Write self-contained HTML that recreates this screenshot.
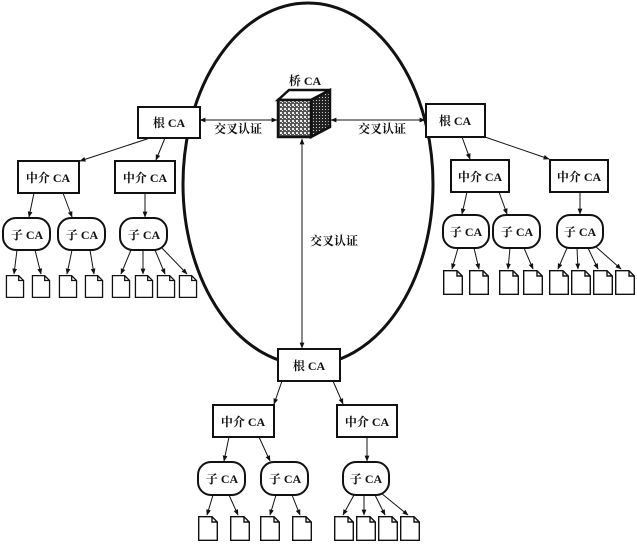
<!DOCTYPE html>
<html><head><meta charset="utf-8"><style>
html,body{margin:0;padding:0;background:#fff}
svg{display:block}
text{font-family:"Liberation Serif","Noto Serif CJK SC",serif;font-size:12px;fill:#111;font-weight:bold}
</style></head><body>
<svg width="637" height="544" viewBox="0 0 637 544" xmlns="http://www.w3.org/2000/svg">
<defs>
<marker id="a" viewBox="0 0 10 10" refX="9" refY="5" markerWidth="6" markerHeight="6" orient="auto-start-reverse"><path d="M0,1 L10,5 L0,9 z" fill="#111"/></marker>
<pattern id="p" width="4" height="4" patternUnits="userSpaceOnUse"><rect width="4" height="4" fill="#555"/><rect x="0" y="0" width="2" height="2" fill="#eee"/><rect x="2" y="2" width="1" height="1" fill="#eee"/></pattern>
<pattern id="q" width="3" height="3" patternUnits="userSpaceOnUse"><rect width="3" height="3" fill="#222"/><rect x="1" y="1" width="1" height="1" fill="#ccc"/></pattern>
<symbol id="d" viewBox="0 0 20 25" overflow="visible"><path d="M0.7,0.7 H14 L19.3,6 V24.3 H0.7 Z M14,0.7 V6 H19.3" fill="#fff" stroke="#111" stroke-width="1.4"/></symbol>
</defs>
<ellipse cx="308" cy="184" rx="125" ry="181" fill="none" stroke="#111" stroke-width="3"/>
<g stroke="#111" stroke-width="1" fill="none" marker-end="url(#a)">
<line x1="200" y1="120" x2="277" y2="120" marker-start="url(#a)"/>
<line x1="331" y1="120" x2="425" y2="120" marker-start="url(#a)"/>
<line x1="302" y1="139" x2="302" y2="348" marker-start="url(#a)"/>
<line x1="150" y1="138" x2="80" y2="161"/><line x1="165" y1="138" x2="156" y2="160"/>
<line x1="34" y1="193" x2="29" y2="217"/><line x1="63" y1="193" x2="72" y2="217"/><line x1="145" y1="193" x2="145" y2="217"/>
<line x1="17" y1="250" x2="14" y2="274"/><line x1="35" y1="250" x2="41" y2="274"/><line x1="72" y1="250" x2="67" y2="274"/><line x1="90" y1="250" x2="94" y2="274"/>
<line x1="131" y1="250" x2="121" y2="274"/><line x1="143" y1="250" x2="143" y2="274"/><line x1="155" y1="250" x2="165" y2="274"/><line x1="161" y1="247" x2="187" y2="274"/>
<line x1="462" y1="137" x2="470" y2="159"/><line x1="485" y1="137" x2="549" y2="159"/>
<line x1="467" y1="192" x2="462" y2="214"/><line x1="499" y1="192" x2="507" y2="214"/><line x1="580" y1="192" x2="580" y2="214"/>
<line x1="458" y1="248" x2="452" y2="269"/><line x1="474" y1="248" x2="479" y2="269"/><line x1="510" y1="248" x2="508" y2="269"/><line x1="524" y1="248" x2="533" y2="269"/>
<line x1="567" y1="248" x2="558" y2="269"/><line x1="577" y1="248" x2="578" y2="269"/><line x1="588" y1="248" x2="598" y2="269"/><line x1="595" y1="246" x2="621" y2="269"/>
<line x1="282" y1="381" x2="274" y2="404"/><line x1="333" y1="381" x2="343" y2="404"/>
<line x1="229" y1="437" x2="224" y2="461"/><line x1="259" y1="437" x2="270" y2="461"/><line x1="367" y1="437" x2="367" y2="461"/>
<line x1="213" y1="495" x2="207" y2="515"/><line x1="229" y1="495" x2="238" y2="515"/><line x1="276" y1="495" x2="270" y2="515"/><line x1="292" y1="495" x2="300" y2="515"/>
<line x1="354" y1="495" x2="343" y2="515"/><line x1="364" y1="495" x2="364" y2="515"/><line x1="375" y1="495" x2="385" y2="515"/><line x1="381" y1="493" x2="408" y2="515"/>
</g>
<g fill="#fff" stroke="#111" stroke-width="2">
<rect x="138" y="107" width="62" height="31"/>
<rect x="18" y="161" width="61" height="32"/><rect x="115" y="161" width="60" height="32"/>
<rect x="3" y="218" width="47" height="32" rx="13"/><rect x="58" y="218" width="47" height="32" rx="13"/><rect x="120" y="218" width="47" height="32" rx="13"/>
<rect x="426" y="104" width="59" height="33"/>
<rect x="451" y="160" width="58" height="32"/><rect x="550" y="160" width="58" height="32"/>
<rect x="443" y="215" width="46" height="33" rx="13"/><rect x="493" y="215" width="47" height="33" rx="13"/><rect x="557" y="215" width="46" height="33" rx="13"/>
<rect x="278" y="349" width="62" height="32"/>
<rect x="213" y="405" width="61" height="32"/><rect x="337" y="405" width="60" height="32"/>
<rect x="198" y="462" width="47" height="33" rx="13"/><rect x="261" y="462" width="47" height="33" rx="13"/><rect x="343" y="462" width="46" height="33" rx="13"/>
</g>
<g stroke="#111" stroke-width="2.5">
<polygon points="278,100 289,90 330,90 311,100" fill="#fff"/>
<polygon points="311,100 330,90 330,127 311,137" fill="url(#q)"/>
<rect x="278" y="100" width="33" height="37" fill="url(#p)"/>
</g>
<g>
<use href="#d" x="5" y="275" width="20" height="23"/><use href="#d" x="31" y="275" width="20" height="23"/><use href="#d" x="58" y="275" width="20" height="23"/><use href="#d" x="84" y="275" width="20" height="23"/>
<use href="#d" x="111" y="275" width="20" height="23"/><use href="#d" x="134" y="275" width="20" height="23"/><use href="#d" x="156" y="275" width="20" height="23"/><use href="#d" x="178" y="275" width="20" height="23"/>
<use href="#d" x="443" y="270" width="20" height="25"/><use href="#d" x="469" y="270" width="20" height="25"/><use href="#d" x="499" y="270" width="20" height="25"/><use href="#d" x="523" y="270" width="20" height="25"/>
<use href="#d" x="549" y="270" width="20" height="25"/><use href="#d" x="571" y="270" width="20" height="25"/><use href="#d" x="593" y="270" width="20" height="25"/><use href="#d" x="615" y="270" width="20" height="25"/>
<use href="#d" x="198" y="516" width="20" height="25"/><use href="#d" x="230" y="516" width="20" height="25"/><use href="#d" x="260" y="516" width="20" height="25"/><use href="#d" x="292" y="516" width="20" height="25"/>
<use href="#d" x="334" y="516" width="20" height="25"/><use href="#d" x="356" y="516" width="20" height="25"/><use href="#d" x="378" y="516" width="20" height="25"/><use href="#d" x="400" y="516" width="20" height="25"/>
</g>
<g text-anchor="middle">
<text x="305" y="85">桥 CA</text>
<text x="238" y="133" font-size="11">交叉认证</text>
<text x="382" y="133" font-size="11">交叉认证</text>
<text x="334" y="245" font-size="11">交叉认证</text>
<text x="169" y="127">根 CA</text>
<text x="48" y="182">中介 CA</text><text x="145" y="182">中介 CA</text>
<text x="27" y="239">子 CA</text><text x="82" y="239">子 CA</text><text x="144" y="239">子 CA</text>
<text x="455" y="125">根 CA</text>
<text x="480" y="181">中介 CA</text><text x="579" y="181">中介 CA</text>
<text x="466" y="236">子 CA</text><text x="517" y="236">子 CA</text><text x="580" y="236">子 CA</text>
<text x="309" y="370">根 CA</text>
<text x="243" y="426">中介 CA</text><text x="367" y="426">中介 CA</text>
<text x="222" y="483">子 CA</text><text x="285" y="483">子 CA</text><text x="366" y="483">子 CA</text>
</g>
</svg>
</body></html>
